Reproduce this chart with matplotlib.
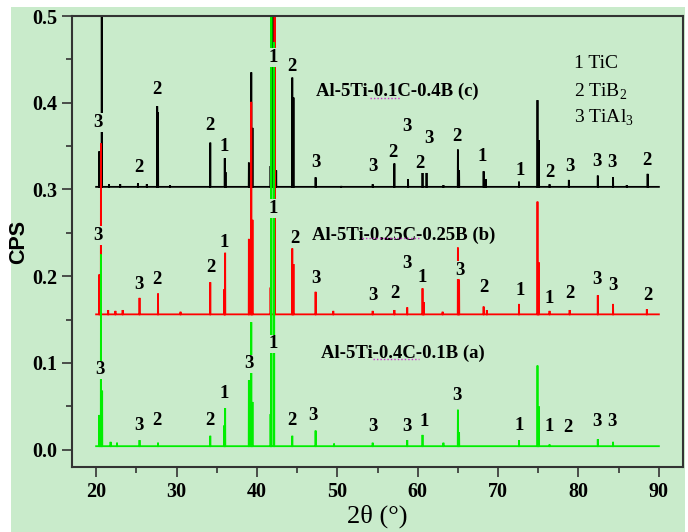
import matplotlib
matplotlib.use('Agg')
import matplotlib.pyplot as plt
from matplotlib.patches import Rectangle
from matplotlib.ticker import MultipleLocator

BG = '#c9ebcb'
SERIF = 'Liberation Serif'
plt.rcParams['mathtext.fontset'] = 'custom'
plt.rcParams['mathtext.rm'] = SERIF

# 2theta range of the scans
X_START, X_END = 20.0, 90.0

# (c) Al-5Ti-0.1C-0.4B, black trace: baseline and peak tops
C_BASE = 0.303
C_POS = [20.4, 20.7, 21.6, 23.0, 25.2, 26.3, 27.6, 27.7, 29.2, 34.2, 36.0, 36.1,
         39.0, 39.3, 39.45, 41.7, 41.95, 42.4, 44.4, 44.55, 47.3, 50.5, 54.4,
         57.1, 58.8, 60.6, 61.1, 63.2, 65.0, 65.15, 68.2, 68.45, 72.6, 74.9, 75.05,
         76.4, 78.8, 82.4, 84.3, 86.0, 88.6]
C_TOP = [0.344, 0.60, 0.306, 0.306, 0.307, 0.306, 0.396, 0.389, 0.305, 0.354, 0.336, 0.320,
         0.331, 0.435, 0.371, 0.327, 0.60, 0.322, 0.429, 0.406, 0.314, 0.304, 0.306,
         0.330, 0.312, 0.320, 0.319, 0.305, 0.346, 0.322, 0.321, 0.312, 0.309, 0.403, 0.357,
         0.306, 0.311, 0.316, 0.314, 0.305, 0.318]

# (b) Al-5Ti-0.25C-0.25B, red trace
R_BASE = 0.156
R_POS = [20.4, 20.6, 21.5, 22.4, 23.3, 25.4, 27.7, 30.5, 34.2, 35.95, 36.05, 39.0,
         39.3, 39.45, 41.7, 42.2, 44.4, 44.55, 47.3, 49.5, 54.4, 57.1, 58.7, 60.6,
         60.75, 63.1, 65.0, 65.15, 68.2, 68.6, 72.6, 74.9, 75.05, 76.4, 78.9, 82.4,
         84.3, 88.5]
R_TOP = [0.202, 0.353, 0.161, 0.160, 0.161, 0.175, 0.180, 0.159, 0.193, 0.185, 0.227, 0.243,
         0.401, 0.265, 0.187, 0.80, 0.232, 0.214, 0.182, 0.160, 0.160, 0.161, 0.164, 0.186,
         0.170, 0.159, 0.233, 0.196, 0.165, 0.161, 0.168, 0.286, 0.216, 0.160, 0.161, 0.178,
         0.168, 0.162]

# (a) Al-5Ti-0.4C-0.1B, green trace
G_BASE = 0.004
G_POS = [20.4, 20.6, 20.75, 21.8, 22.6, 25.4, 27.7, 34.2, 35.95, 36.05, 39.0, 39.3,
         39.45, 41.7, 41.8, 42.14, 44.4, 47.3, 49.6, 54.4, 58.7, 60.6, 63.2, 65.0,
         65.15, 72.6, 74.9, 75.05, 76.4, 82.4, 84.3]
G_TOP = [0.040, 0.225, 0.068, 0.009, 0.008, 0.011, 0.008, 0.016, 0.028, 0.048, 0.080, 0.147,
         0.055, 0.041, 0.80, 0.47, 0.016, 0.022, 0.007, 0.008, 0.011, 0.017, 0.008, 0.046,
         0.020, 0.011, 0.097, 0.050, 0.006, 0.012, 0.009]

# phase labels (1 TiC, 2 TiB2, 3 TiAl3) above the peaks
C_LAB_X = [20.2, 25.3, 27.6, 34.2, 35.9, 42.0, 44.4, 47.3, 54.4, 56.9, 58.7, 60.3, 61.4,
           64.9, 68.0, 72.7, 76.5, 78.9, 82.3, 84.2, 88.5]
C_LAB_Y = [0.377, 0.325, 0.415, 0.374, 0.349, 0.452, 0.442, 0.331, 0.326, 0.343, 0.373,
           0.330, 0.359, 0.361, 0.338, 0.322, 0.320, 0.327, 0.332, 0.331, 0.333]
C_LAB_T = '322211233232321123332'

R_LAB_X = [20.2, 25.3, 27.6, 34.3, 35.9, 42.0, 44.7, 47.4, 54.4, 57.1, 58.7, 60.6, 65.3,
           68.2, 72.7, 76.4, 78.9, 82.3, 84.3, 88.6]
R_LAB_Y = [0.247, 0.190, 0.196, 0.210, 0.239, 0.278, 0.243, 0.197, 0.178, 0.180, 0.215,
           0.199, 0.207, 0.187, 0.184, 0.174, 0.180, 0.196, 0.189, 0.178]
R_LAB_T = '33221123323132112332'

G_LAB_X = [20.5, 25.3, 27.5, 34.2, 35.9, 39.0, 42.0, 44.4, 47.0, 54.4, 58.7, 60.8, 64.9,
           72.6, 76.3, 78.7, 82.3, 84.2]
G_LAB_Y = [0.092, 0.028, 0.034, 0.034, 0.065, 0.099, 0.122, 0.034, 0.039, 0.027, 0.027,
           0.033, 0.062, 0.028, 0.027, 0.026, 0.032, 0.032]
G_LAB_T = '332213123331311233'

SAMPLES = ['Al-5Ti-0.1C-0.4B (c)', 'Al-5Ti-0.25C-0.25B (b)', 'Al-5Ti-0.4C-0.1B (a)']
SAMPLE_X = [47.4, 46.9, 48.0]
SAMPLE_Y = [0.413, 0.247, 0.1105]

PHASES = ['1 TiC', '2 TiB$_2$', '3 TiAl$_3$']
PHASE_Y = [0.445, 0.412, 0.382]


def trace(base, pos, top, hw=0.02):
    xs, ys = [X_START], [base]
    for p, t in zip(pos, top):
        xs += [p - hw, p, p + hw]
        ys += [base, t, base]
    xs.append(X_END)
    ys.append(base)
    return xs, ys


fig = plt.figure(figsize=(6.88, 5.32), dpi=100, facecolor='white')
fig.patches.append(Rectangle((11 / 688, 0), 674 / 688, 525 / 532, transform=fig.transFigure,
                             facecolor=BG, edgecolor='none', zorder=-10))
ax = fig.add_axes([72 / 688, 1 - 467 / 532, 611 / 688, 451 / 532])
ax.set_facecolor(BG)

for base, pos, top, color in [(C_BASE, C_POS, C_TOP, 'black'),
                              (R_BASE, R_POS, R_TOP, '#ff0000'),
                              (G_BASE, G_POS, G_TOP, '#00ee00')]:
    xs, ys = trace(base, pos, top)
    ax.plot(xs, ys, color=color, lw=1.3, solid_joinstyle='miter')

lab_box = dict(facecolor=BG, edgecolor='none', pad=0.5)
for lx, ly, lt in [(C_LAB_X, C_LAB_Y, C_LAB_T), (R_LAB_X, R_LAB_Y, R_LAB_T),
                   (G_LAB_X, G_LAB_Y, G_LAB_T)]:
    for x, y, t in zip(lx, ly, lt):
        ax.text(x, y, t, ha='center', va='center', family=SERIF, weight='bold',
                fontsize=13.5, bbox=lab_box, zorder=5)

for name, x, y in zip(SAMPLES, SAMPLE_X, SAMPLE_Y):
    ax.text(x, y, name, ha='left', va='center', family=SERIF, weight='bold',
            fontsize=13.5, zorder=5)

# dotted spell-check underlines left in the sample names
for x0, x1, y in [(54.1, 57.9, 0.405), (53.1, 60.1, 0.2436), (54.5, 60.1, 0.104)]:
    ax.plot([x0, x1], [y, y], color='#cc33cc', lw=1.0, ls=(0, (1, 1.5)), zorder=6)

for name, y in zip(PHASES, PHASE_Y):
    ax.text(79.4, y, name, ha='left', va='center', family=SERIF, fontsize=14, zorder=5)

ax.set_xlim(17, 93)
ax.set_ylim(-0.02, 0.5)
ax.xaxis.set_major_locator(MultipleLocator(10))
ax.xaxis.set_minor_locator(MultipleLocator(5))
ax.yaxis.set_major_locator(MultipleLocator(0.1))
ax.yaxis.set_minor_locator(MultipleLocator(0.05))
ax.tick_params(which='major', length=7, width=1.2, color='#333333')
ax.tick_params(which='minor', length=4, width=1.2, color='#333333')
for lab in ax.get_xticklabels() + ax.get_yticklabels():
    lab.set_family(SERIF)
    lab.set_weight('bold')
    lab.set_fontsize(14.5)
for sp in ax.spines.values():
    sp.set_color('#333333')
    sp.set_linewidth(1.5)

ax.set_xlabel('2θ (°)', family=SERIF, fontsize=19, labelpad=2)
ax.set_ylabel('CPS', family='Liberation Sans', weight='bold', fontsize=15.5, labelpad=2)

fig.savefig('out.png', dpi=100, facecolor=fig.get_facecolor())
